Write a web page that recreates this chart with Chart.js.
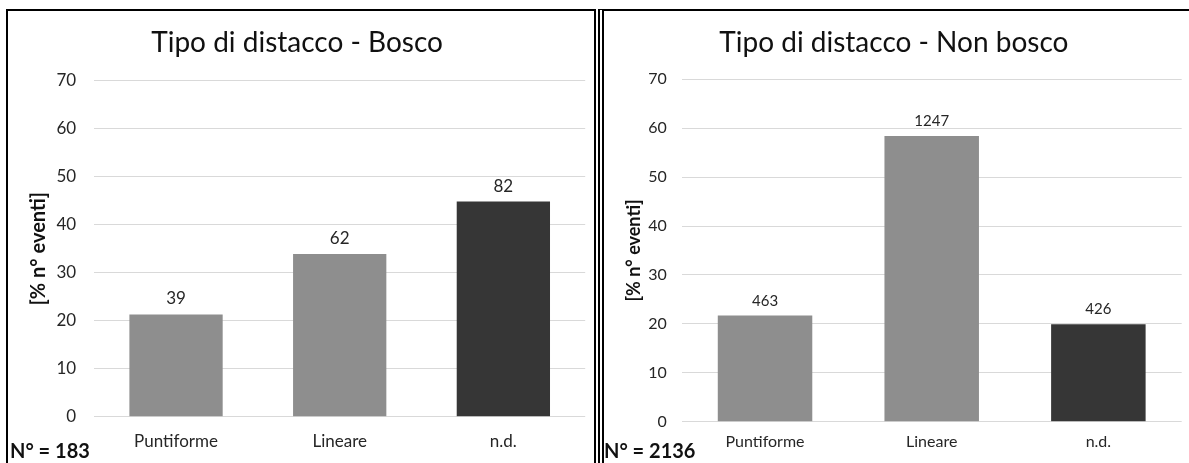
<!DOCTYPE html>
<html>
<head>
<meta charset="utf-8">
<script src="https://cdn.jsdelivr.net/npm/chart.js@4/dist/chart.umd.min.js"></script>
<style>
  html, body { margin: 0; padding: 0; background: #ffffff; }
  body { width: 1189px; height: 463px; position: relative; overflow: hidden; font-family: Lato, "Open Sans", sans-serif; }
  .frame-left { position: absolute; left: 6px; top: 9px; width: 586px; height: 480px; border: 2px solid #000; border-bottom: none; }
  .frame-right { position: absolute; left: 598px; top: 9px; width: 600px; height: 480px; border-top: 2px solid #000; border-left: 6px double #000; }
  .panel { position: absolute; top: 12px; height: 451px; }
  #p1 { left: 9px; width: 584px; }
  #p2 { left: 606px; width: 583px; }
  .count { position: absolute; font-weight: bold; font-size: 20px; color: #111; white-space: nowrap; }
</style>
</head>
<body>
<div class="frame-left"></div>
<div class="frame-right"></div>
<div class="panel" id="p1"><canvas id="c1"></canvas></div>
<div class="panel" id="p2"><canvas id="c2"></canvas></div>
<div class="count" id="n1" style="left:10px; top:438px;"></div>
<div class="count" id="n2" style="left:604px; top:438px;"></div>
<script>
// Event categories shared by both panels
const categories = ['Puntiforme', 'Lineare', 'n.d.'];

// Bosco: share of events [%] and event counts
const boscoPercent = [21.3, 33.9, 44.8];
const boscoCounts = [39, 62, 82];
const boscoTotal = 183;

// Non bosco: share of events [%] and event counts
const nonBoscoPercent = [21.7, 58.4, 19.9];
const nonBoscoCounts = [463, 1247, 426];
const nonBoscoTotal = 2136;

// Value axis ticks
const yTicks = [0, 10, 20, 30, 40, 50, 60, 70];

const barColors = ['#8e8e8e', '#8e8e8e', '#363636'];
const FONT = 'Lato, "Open Sans", sans-serif';

// Writes the event count above each bar
const countLabels = {
  id: 'countLabels',
  afterDatasetsDraw(chart, args, opts) {
    const ctx = chart.ctx;
    const meta = chart.getDatasetMeta(0);
    ctx.save();
    ctx.font = opts.size + 'px ' + FONT;
    ctx.fillStyle = '#262626';
    ctx.textAlign = 'center';
    ctx.textBaseline = 'alphabetic';
    meta.data.forEach((bar, i) => {
      ctx.fillText(String(opts.counts[i]), bar.x, bar.y - 10);
    });
    ctx.restore();
  }
};

function makeChart(canvasId, title, values, counts, s) {
  return new Chart(document.getElementById(canvasId), {
    type: 'bar',
    data: {
      labels: categories,
      datasets: [{
        data: values,
        backgroundColor: barColors,
        borderWidth: 0,
        categoryPercentage: 1,
        barPercentage: s.barPct
      }]
    },
    options: {
      responsive: true,
      maintainAspectRatio: false,
      animation: false,
      events: [],
      layout: { padding: { top: 0, left: 0, right: s.padRight, bottom: 0 } },
      plugins: {
        legend: { display: false },
        tooltip: { enabled: false },
        title: {
          display: true,
          text: title,
          color: '#111111',
          font: { family: FONT, size: 28, weight: 'normal', lineHeight: 1.2 },
          padding: { top: 14, bottom: s.titleGap }
        },
        countLabels: { counts: counts, size: s.labelSize }
      },
      scales: {
        x: {
          grid: { display: false, drawTicks: false },
          border: { display: false },
          ticks: { color: '#262626', font: { family: FONT, size: s.catSize }, padding: s.catPad, maxRotation: 0 },
          afterFit(scale) { scale.height = s.xHeight; }
        },
        y: {
          min: yTicks[0],
          max: yTicks[yTicks.length - 1],
          afterBuildTicks(scale) { scale.ticks = yTicks.map(v => ({ value: v })); },
          grid: { color: '#d9d9d9', lineWidth: 1, drawTicks: false },
          border: { display: false },
          ticks: { color: '#262626', font: { family: FONT, size: s.tickSize }, padding: s.tickPad },
          title: {
            display: true,
            text: '[% n° eventi]',
            color: '#111111',
            font: { family: FONT, size: s.yTitleSize, weight: 'bold' },
            padding: { top: s.yTitlePad, bottom: 0 }
          },
          afterFit(scale) { scale.width = s.yWidth; }
        }
      }
    },
    plugins: [countLabels]
  });
}

makeChart('c1', 'Tipo di distacco - Bosco', boscoPercent, boscoCounts, {
  barPct: 0.57, padRight: 7.8, titleGap: 21, labelSize: 17, catSize: 17, catPad: 15,
  xHeight: 46.3, tickSize: 17, tickPad: 18, yTitleSize: 20, yTitlePad: 18, yWidth: 85.2
});

makeChart('c2', 'Tipo di distacco - Non bosco', nonBoscoPercent, nonBoscoCounts, {
  barPct: 0.567, padRight: 7.3, titleGap: 19.7, labelSize: 15, catSize: 16, catPad: 10.7,
  xHeight: 41.3, tickSize: 16, tickPad: 15, yTitleSize: 18, yTitlePad: 17.2, yWidth: 75.7
});

document.getElementById('n1').textContent = 'N° = ' + boscoTotal;
document.getElementById('n2').textContent = 'N° = ' + nonBoscoTotal;
</script>
</body>
</html>
